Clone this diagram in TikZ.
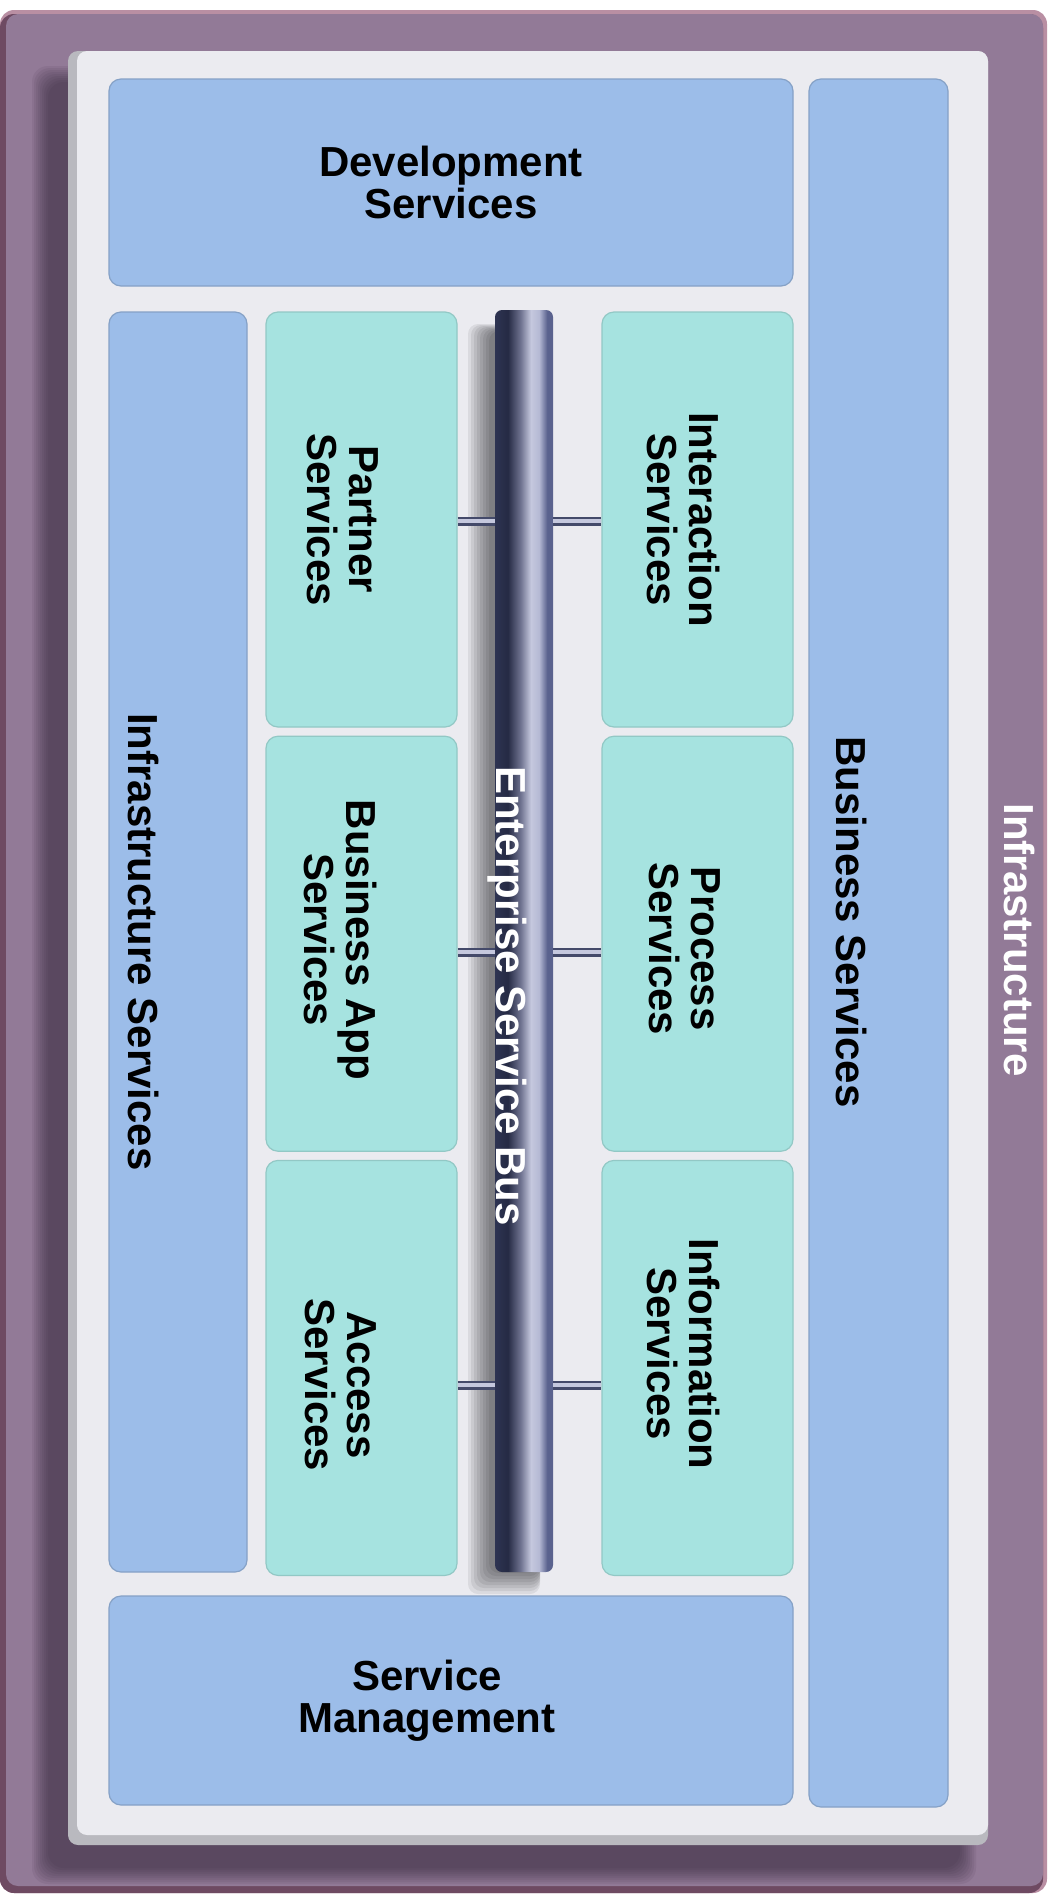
\documentclass[tikz,border=0pt]{standalone}
\usepackage{xcolor}
\usepackage{fontspec}
\setmainfont{Liberation Sans}
\usepackage{tikz}
\usetikzlibrary{positioning, calc}

\definecolor{framec}{HTML}{927A97}
\definecolor{framedark}{HTML}{6E4A62}
\definecolor{framepink}{HTML}{B98FA3}
\definecolor{shadowc}{HTML}{2E2034}
\definecolor{panelc}{HTML}{EBEBF0}
\definecolor{paneledge}{HTML}{B9B9BF}
\definecolor{blueb}{HTML}{9CBDE9}
\definecolor{tealb}{HTML}{A6E3E0}
\definecolor{busA}{HTML}{2E3452}
\definecolor{busB}{HTML}{252A44}
\definecolor{busC}{HTML}{6E728F}
\definecolor{busD}{HTML}{C5C8DE}
\definecolor{busE}{HTML}{B5B9D4}
\definecolor{busF}{HTML}{5A628E}
\pgfdeclarehorizontalshading{busshade}{100bp}{color(0bp)=(busA); color(25bp)=(busA); color(36bp)=(busB); color(47bp)=(busC); color(56bp)=(busD); color(63bp)=(busE); color(70bp)=(busF); color(75bp)=(busF); color(100bp)=(busF)}

\begin{document}
\begin{tikzpicture}[x=1pt, y=-1pt,
		box/.style={rectangle, rounded corners=12pt, inner sep=0pt, line width=1.2pt},
		bluebox/.style={box, fill=blueb, draw=blueb!85!black},
		tealbox/.style={box, fill=tealb, draw=tealb!88!black, minimum width=191pt, minimum height=415pt},
		busbar/.style={rectangle, rounded corners=7pt, inner sep=0pt, shading=busshade, shading angle=0},
		link/.style={draw=busF!75!black, line width=2.5pt, double=busD, double distance=4pt},
		txt/.style={font=\fontsize{42}{42}\selectfont\bfseries, align=center},
		vtxt/.style={txt, rotate=-90}]
		
		\useasboundingbox (0,0) rectangle (1050,1899);
		
		% outer frame
		\fill[framepink, rounded corners=14pt] (0,10) rectangle (1047,1893);
		\fill[framedark, rounded corners=14pt] (0,14) rectangle (1043,1893);
		\fill[framec, rounded corners=12pt] (6,14) rectangle (1043,1886);
		
		% panel with its shadow
		\foreach \b in {0,2,...,16}
		\fill[shadowc, opacity=.08, rounded corners=16pt] (32+\b,66+\b) rectangle (976-\b,1884-\b);
		\fill[paneledge, rounded corners=10pt] (68,51) rectangle (988,1845);
		\fill[panelc, rounded corners=10pt] (77,51) rectangle (988,1835);
		
		\node[bluebox, minimum width=684pt, minimum height=207pt, txt] (dev) at (451,182.5) {Development\\Services};
		\node[bluebox, minimum width=684pt, minimum height=209pt, txt] (sm) at (451,1700.5) {\hspace*{-48pt}Service\\\hspace*{-48pt}Management};
		\node[bluebox, minimum width=139pt, minimum height=1728pt] (biz) at (878.5,943) {};
		\node[bluebox, minimum width=138pt, minimum height=1260pt] (infra) at (178,942) {};
		
		\node[tealbox] (partner) at (361.5,519.5) {};
		\node[tealbox] (bizapp) [below=8pt of partner] {};
		\node[tealbox] (access) [below=8pt of bizapp] {};
		\node[tealbox] (interaction) at (697.5,519.5) {};
		\node[tealbox] (process) [below=8pt of interaction] {};
		\node[tealbox] (information) [below=8pt of process] {};
		
		% bus
		\foreach \s in {0,...,7}
		\fill[black, opacity=.07, rounded corners=10pt] (468+\s*3,324+\s) rectangle (540,1594-\s*3);
		\node[busbar, minimum width=58pt, minimum height=1262pt] (bus) at (524,941) {};
		
		\foreach \lb/\rb/\dy in {partner/interaction/-1.5, bizapp/process/-8.5, access/information/-17.5}{
			\coordinate (\lb-link) at ([yshift=\dy pt]\lb.east);
			\draw[link] (\lb-link) -- (\lb-link -| bus.west);
			\draw[link] (\lb-link -| bus.east) -- (\lb-link -| \rb.west);
		}
		
		\node[vtxt] (partner-txt) at ([xshift=-19pt]partner.center) {Partner\\Services};
		\node[vtxt] (bizapp-txt) at ([xshift=-21pt, yshift=4pt]bizapp.center) {Business App\\Services};
		\node[vtxt] (access-txt) at ([xshift=-21pt, yshift=-17pt]access.center) {Access\\Services};
		\node[vtxt] (interaction-txt) at ([xshift=-14pt]interaction.center) {Interaction\\Services};
		\node[vtxt] (process-txt) at ([xshift=-13pt, yshift=-5pt]process.center) {Process\\Services};
		\node[vtxt] (information-txt) at ([xshift=-14pt, yshift=14pt]information.center) {Information\\Services};
		\node[vtxt] (infra-txt) at ([xshift=-34pt]infra.center) {Infrastructure Services};
		\node[vtxt] (biz-txt) at ([xshift=-27pt, yshift=21pt]biz.center) {Business Services};
		\node[vtxt, text=white] (bus-txt) at (507,996) {Enterprise Service Bus};
		\node[vtxt, text=white] (frame-txt) at (1020,940) {Infrastructure};
		
	\end{tikzpicture}
\end{document}
